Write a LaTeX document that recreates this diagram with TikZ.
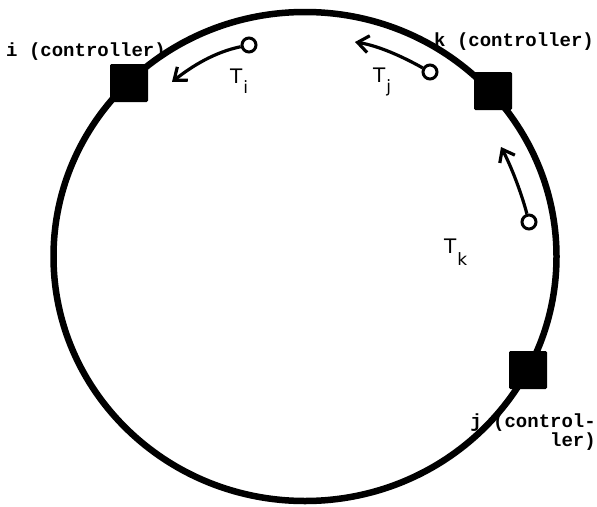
\documentclass[tikz,border=0pt]{standalone}
\usepackage{fontspec}
\newfontfamily\tw{Liberation Mono}[BoldFont={Liberation Mono Bold}]
\newfontfamily\ts{DejaVu Sans}
\usetikzlibrary{arrows.meta}
\begin{document}
\begin{tikzpicture}[x=1pt,y=-1pt,
  ring/.style={line width=6.5pt},
  ctrl/.style={fill=black,draw=black,line width=1pt,minimum size=37pt,inner sep=0pt,rounded corners=1pt},
  lbl/.style={font=\tw\bfseries\fontsize{19}{19}\selectfont,inner sep=0pt},
  tok/.style={circle,draw=black,line width=3pt,minimum size=14pt,inner sep=0pt,fill=white},
  mv/.style={line width=3.2pt,-{Straight Barb[length=11pt,width=17pt]}},
  tl/.style={font=\ts\fontsize{20}{20}\selectfont,inner sep=0pt,anchor=base west}
]
\useasboundingbox (0,0) rectangle (597,506);
% ring
\draw[ring] (305,256.5) ellipse [x radius=251.5, y radius=244.5];
% controllers
\node[ctrl] (ni) at (129,83) {};
\node[ctrl] (nk) at (493,91) {};
\node[ctrl] (nj) at (528,370) {};
% labels
\node[lbl,anchor=base west] (li) at (6,56) {i (controller)};
\node[lbl,anchor=base west] (lk) at (434,46) {k (controller)};
\node[lbl,anchor=base east] (lj1) at (596,427) {j (control-};
\node[lbl,anchor=base east] (lj2) at (596,446) {ler)};
% tokens
\node[tok] (ci) at (249,45) {};
\node[tok] (cj) at (430,72) {};
\node[tok] (ck) at (529,222) {};
\coordinate (ti) at (172,82);
\coordinate (tj) at (355,42);
\coordinate (tk) at (501,147);
\draw[mv] (ci) .. controls (215,52) and (192,66) .. (ti);
\draw[mv] (cj) .. controls (405,58) and (380,46) .. (tj);
\draw[mv] (ck) .. controls (522,195) and (512,168) .. (tk);
% T labels
\node[tl] (Ti) at (230,83) {T\kern1pt\raisebox{-10pt}{\fontsize{17}{17}\selectfont i}};
\node[tl] (Tj) at (373,82) {T\kern1pt\raisebox{-10pt}{\fontsize{17}{17}\selectfont j}};
\node[tl] (Tk) at (444,253) {T\kern1pt\raisebox{-12pt}{\fontsize{17}{17}\selectfont k}};
\end{tikzpicture}
\end{document}
